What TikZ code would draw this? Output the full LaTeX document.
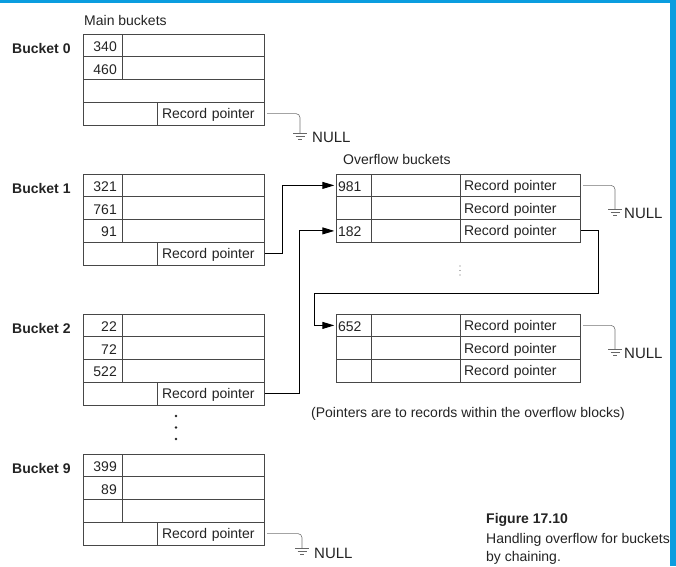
\documentclass[tikz,border=0pt]{standalone}
\usepackage{fontspec}
\setmainfont{Liberation Sans}
\usetikzlibrary{arrows.meta}
\definecolor{barblue}{RGB}{11,157,223}
\definecolor{ink}{RGB}{35,35,35}
\begin{document}
\begin{tikzpicture}[x=1pt,y=-1pt,
  font=\fontsize{14}{16}\selectfont, text=ink,
  grid/.style={draw=black!72, line width=0.8pt},
  txt/.style={anchor=base west, inner sep=0pt},
  lbl/.style={anchor=base west, inner sep=0pt, font=\fontsize{14}{16}\selectfont\bfseries},
  num/.style={anchor=east, inner sep=0pt, text height=12pt, text depth=0pt},
  rp/.style={minimum width=107pt, minimum height=22.75pt, text width=97pt, align=left,
             inner xsep=5pt, inner ysep=0pt, text height=11pt, text depth=1pt},
  orp/.style={minimum width=120pt, minimum height=22.75pt, text width=112pt, align=left,
             inner xsep=4pt, inner ysep=0pt, text height=11pt, text depth=1pt},
  onum/.style={minimum width=35pt, minimum height=22.75pt, text width=31pt, align=left,
             inner xsep=2pt, inner ysep=0pt, text height=12pt, text depth=0pt},
  ptr/.style={draw=black, line width=0.9pt, shorten <=1pt, shorten >=1.5pt,
             -{Triangle[length=12pt,width=7pt]}},
  nullw/.style={draw=black!55, line width=0.6pt, rounded corners=4pt, shorten <=3pt},
  nulltxt/.style={anchor=base west, inner sep=0pt, font=\fontsize{15}{17}\selectfont},
  gnd/.pic={\draw[black!60, line width=0.7pt] (-7,0)--(7,0) (-4.5,3)--(4.5,3) (-2,6)--(2,6);}
]
\useasboundingbox (0,0) rectangle (676,566);
% blue frame bars
\fill[barblue] (0,0) rectangle (676,3);
\fill[barblue] (670,0) rectangle (676,566);

% titles
\node[txt] (mainT) at (84,25) {Main buckets};
\node[txt] (ovT) at (343,164) {Overflow buckets};

% ---------- Bucket 0 ----------
\draw[grid] (83,34) rectangle (264,125);
\draw[grid] (83,56.75) -- (264,56.75) (83,79.5) -- (264,79.5) (83,102.25) -- (264,102.25);
\draw[grid] (122,34) -- (122,79.5) (157,102.25) -- (157,125);
\node[lbl] (b0l) at (12,53) {Bucket 0};
\node[num] (b0a) at (117,45.4) {340};
\node[num] (b0b) at (117,68.1) {460};
\node[rp] (b0rp) at (210.5,113.6) {Record pointer};

% ---------- Bucket 1 ----------
\draw[grid] (83,174) rectangle (264,265);
\draw[grid] (83,196.75) -- (264,196.75) (83,219.5) -- (264,219.5) (83,242.25) -- (264,242.25);
\draw[grid] (122,174) -- (122,242.25) (157,242.25) -- (157,265);
\node[lbl] (b1l) at (12,193) {Bucket 1};
\node[num] (b1a) at (117,185.4) {321};
\node[num] (b1b) at (117,208.1) {761};
\node[num] (b1c) at (117,230.9) {91};
\node[rp] (b1rp) at (210.5,253.6) {Record pointer};

% ---------- Bucket 2 ----------
\draw[grid] (83,314) rectangle (264,405);
\draw[grid] (83,336.75) -- (264,336.75) (83,359.5) -- (264,359.5) (83,382.25) -- (264,382.25);
\draw[grid] (122,314) -- (122,382.25) (157,382.25) -- (157,405);
\node[lbl] (b2l) at (12,333) {Bucket 2};
\node[num] (b2a) at (117,325.4) {22};
\node[num] (b2b) at (117,348.1) {72};
\node[num] (b2c) at (117,370.9) {522};
\node[rp] (b2rp) at (210.5,393.6) {Record pointer};

% ---------- Bucket 9 ----------
\draw[grid] (83,454) rectangle (264,545);
\draw[grid] (83,476.75) -- (264,476.75) (83,499.5) -- (264,499.5) (83,522.25) -- (264,522.25);
\draw[grid] (122,454) -- (122,522.25) (157,522.25) -- (157,545);
\node[lbl] (b9l) at (12,473) {Bucket 9};
\node[num] (b9a) at (117,465.4) {399};
\node[num] (b9b) at (117,488.1) {89};
\node[rp] (b9rp) at (210.5,533.6) {Record pointer};

% vertical dots between buckets
\fill[ink] (176,416) circle (1.3pt) (176,427.5) circle (1.3pt) (176,439) circle (1.3pt);

% ---------- Overflow block 1 ----------
\draw[grid] (336,174) rectangle (580,242.25);
\draw[grid] (336,196.75) -- (580,196.75) (336,219.5) -- (580,219.5);
\draw[grid] (371,174) -- (371,242.25) (460,174) -- (460,242.25);
\node[onum] (o1a) at (353.5,185.4) {981};
\node[onum] (o1b) at (353.5,208.1) {};
\node[onum] (o1c) at (353.5,230.9) {182};
\node[orp] (o1p) at (520,185.4) {Record pointer};
\node[orp] (o1q) at (520,208.1) {Record pointer};
\node[orp] (o1r) at (520,230.9) {Record pointer};

% small vertical ellipsis
\fill[black!60] (460,266) circle (0.6pt) (460,270.5) circle (0.6pt) (460,275) circle (0.6pt);

% ---------- Overflow block 2 ----------
\draw[grid] (336,314) rectangle (580,382.25);
\draw[grid] (336,336.75) -- (580,336.75) (336,359.5) -- (580,359.5);
\draw[grid] (371,314) -- (371,382.25) (460,314) -- (460,382.25);
\node[onum] (o2a) at (353.5,325.4) {652};
\node[onum] (o2b) at (353.5,348.1) {};
\node[onum] (o2c) at (353.5,370.9) {};
\node[orp] (o2p) at (520,325.4) {Record pointer};
\node[orp] (o2q) at (520,348.1) {Record pointer};
\node[orp] (o2r) at (520,370.9) {Record pointer};

\node[txt] (note) at (311,417) {(Pointers are to records within the overflow blocks)};

% ---------- pointers ----------
\draw[ptr] (b1rp.east) -- ++(18,0) |- (o1a.west);
\draw[ptr] (b2rp.east) -- ++(35,0) |- (o1c.west);
\coordinate (c1) at (314,293);
\draw[ptr] (o1r.east) -- ++(18,0) |- (c1) |- (o2a.west);

% ---------- NULL terminations ----------
\coordinate (g0) at (300,133);
\draw[nullw] (b0rp.east) -| (g0);
\pic at (g0) {gnd};
\node[nulltxt] (n0) at (312,142) {NULL};

\coordinate (g9) at (302,548);
\draw[nullw] (b9rp.east) -| (g9);
\pic at (g9) {gnd};
\node[nulltxt] (n9) at (314,558) {NULL};

\coordinate (g1) at (615,209);
\draw[nullw] (o1p.east) -| (g1);
\pic at (g1) {gnd};
\node[nulltxt] (n1) at (624,218) {NULL};

\coordinate (g2) at (615,349);
\draw[nullw] (o2p.east) -| (g2);
\pic at (g2) {gnd};
\node[nulltxt] (n2) at (624,358) {NULL};

% ---------- caption ----------
\node[lbl] (figT) at (486,523) {Figure 17.10};
\node[txt] (cap1) at (486,543) {Handling overflow for buckets};
\node[txt] (cap2) at (486,561) {by chaining.};
\end{tikzpicture}
\end{document}
